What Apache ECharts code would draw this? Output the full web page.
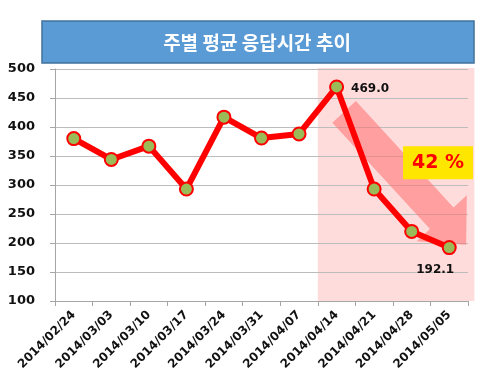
<!DOCTYPE html>
<html><head><meta charset="utf-8">
<script src="https://cdn.jsdelivr.net/npm/echarts@6/dist/echarts.min.js"></script>
<style>html,body{margin:0;padding:0;background:#fff}#c{width:487px;height:388px}</style>
</head><body><div id="c"></div>
<script>
const categories = ['2014/02/24','2014/03/03','2014/03/10','2014/03/17','2014/03/24','2014/03/31','2014/04/07','2014/04/14','2014/04/21','2014/04/28','2014/05/05'];
const values = [380, 344, 367, 293, 417, 381, 388, 469.0, 293, 220, 192.1];
const yTicks = {min: 100, max: 500, interval: 50};
const titleText = '주별 평균 응답시간 추이';
const dropText = '42 %';
const labelledIdx = [7, 10];

const chart = echarts.init(document.getElementById('c'));
const font = 'DejaVu Sans, Verdana, sans-serif';
chart.setOption({
  animation: false,
  grid: {left: 55, right: 19, top: 69, bottom: 87},
  xAxis: {
    type: 'category', data: categories, boundaryGap: true,
    axisLine: {lineStyle: {color: '#a6a6a6', width: 1}},
    axisTick: {show: true, lineStyle: {color: '#a6a6a6'}, length: 5},
    axisLabel: {rotate: 45, color: '#111', fontWeight: 'bold', fontSize: 12, fontFamily: font, margin: 12}
  },
  yAxis: {
    type: 'value', min: yTicks.min, max: yTicks.max, interval: yTicks.interval,
    axisLine: {show: true, lineStyle: {color: '#a6a6a6'}},
    axisTick: {show: true, lineStyle: {color: '#a6a6a6'}, length: 5},
    splitLine: {lineStyle: {color: '#bcbcbc', width: 1}},
    axisLabel: {color: '#111', fontWeight: 'bold', fontSize: 13, fontFamily: font, margin: 20}
  },
  series: [{
    type: 'line', data: values.map((v, i) => ({
      value: v,
      label: labelledIdx.includes(i) ? {
        show: true, formatter: p => p.value.toFixed(1),
        position: i === 7 ? 'right' : 'bottom',
        offset: i === 7 ? [2, 2] : [-14, 4],
        fontWeight: 'bold', fontSize: 12, color: '#111', fontFamily: font
      } : {show: false}
    })),
    symbol: 'circle', symbolSize: 13, z: 5,
    lineStyle: {color: '#ff0000', width: 6},
    itemStyle: {color: '#9bbb59', borderColor: '#ff0000', borderWidth: 2}
  }]
});

function px(x, y) { return chart.convertToPixel({xAxisIndex: 0, yAxisIndex: 0}, [x, y]); }
const step = px(1, 100)[0] - px(0, 100)[0];
// fractional category position
function pxf(x, y) {
  const b = Math.floor(x);
  const p = px(b, y);
  return [p[0] + (x - b) * step, p[1]];
}
const top500 = px(0, 500)[1], bot100 = px(0, 100)[1];
const regionL = pxf(6.5, 100)[0];
const regionR = pxf(10.67, 100)[0];
// arrow along the drop from 04/14 to 05/05
const a0 = pxf(7.2, 426), a1 = pxf(10.45, 197);
const dx = a1[0] - a0[0], dy = a1[1] - a0[1];
const L = Math.hypot(dx, dy), ux = dx / L, uy = dy / L, nx = -uy, ny = ux;
const hw = 16, hh = 34, headLen = 36;
const hb = [a1[0] - ux * headLen, a1[1] - uy * headLen];
const arrowPts = [
  [a0[0] + nx * hw, a0[1] + ny * hw],
  [hb[0] + nx * hw, hb[1] + ny * hw],
  [hb[0] + nx * hh, hb[1] + ny * hh],
  [a1[0], a1[1]],
  [hb[0] - nx * hh, hb[1] - ny * hh],
  [hb[0] - nx * hw, hb[1] - ny * hw],
  [a0[0] - nx * hw, a0[1] - ny * hw]
];
const box = pxf(8.77, 367);

chart.setOption({
  graphic: [
    {type: 'rect', z: -10, silent: true,
     shape: {x: 42, y: 21, width: 432, height: 42},
     style: {fill: '#5b9bd5', stroke: '#41719c', lineWidth: 1.5}},
    {type: 'text', z: 10, x: 257, y: 43,
     style: {text: titleText, fill: '#fff', font: 'bold 19px "Noto Sans CJK KR", sans-serif', align: 'center', verticalAlign: 'middle'}},
    {type: 'rect', z: -10, silent: true,
     shape: {x: regionL, y: top500 - 1, width: regionR - regionL, height: bot100 - top500 + 1},
     style: {fill: '#ffdcdc'}},
    {type: 'polygon', z: 1, silent: true,
     shape: {points: arrowPts},
     style: {fill: 'rgba(255,110,110,0.55)'}},
    {type: 'rect', z: 10, silent: true,
     shape: {x: box[0], y: box[1], width: 70, height: 33},
     style: {fill: '#ffe600'}},
    {type: 'text', z: 11, x: box[0] + 35, y: box[1] + 17,
     style: {text: dropText, fill: '#ff0000', font: 'bold 19px ' + font, align: 'center', verticalAlign: 'middle'}}
  ]
});
</script></body></html>
